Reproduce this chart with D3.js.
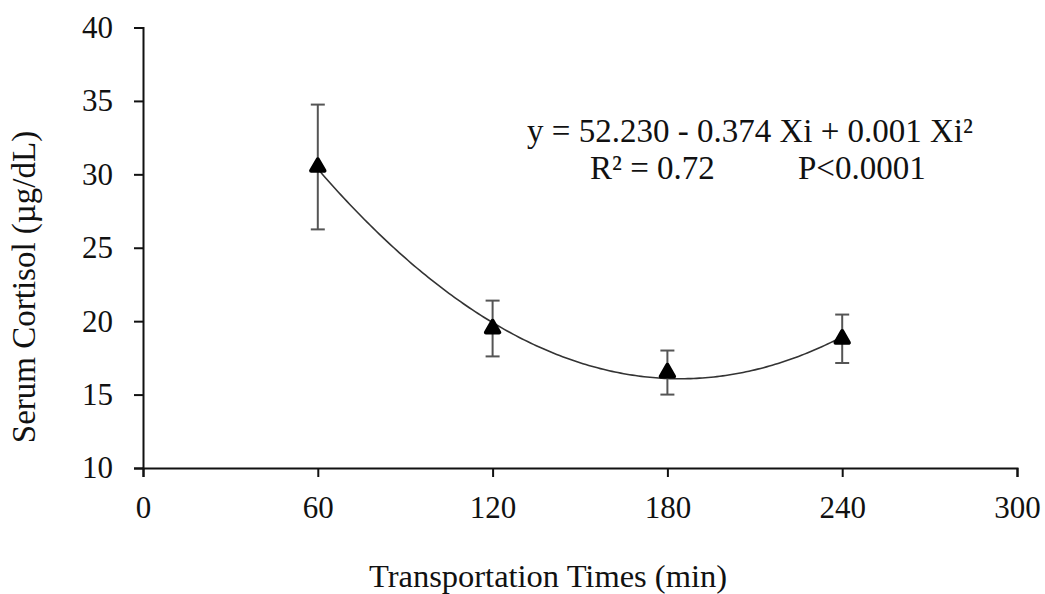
<!DOCTYPE html>
<html><head><meta charset="utf-8">
<script src="https://cdn.jsdelivr.net/npm/d3@7"></script>
<style>body{margin:0;background:#fff}svg{display:block}text{font-family:"Liberation Serif","Times New Roman",serif;fill:#111}</style>
</head><body>
<script>
const times = [60, 120, 180, 240];
const cortisol = [30.5, 19.5, 16.5, 18.8];
const stdErr = [4.25, 1.9, 1.5, 1.65];
const xTicks = [0, 60, 120, 180, 240, 300];
const yTicks = [10, 15, 20, 25, 30, 35, 40];
const eqLine1 = "y = 52.230 - 0.374 Xi + 0.001 Xi²";
const eqLine2a = "R² = 0.72";
const eqLine2b = "P<0.0001";

const W = 1045, H = 594;
const svg = d3.select("body").append("svg").attr("width", W).attr("height", H);
const x = d3.scaleLinear().domain([0, 300]).range([143, 1017]);
const y = d3.scaleLinear().domain([10, 40]).range([468, 27.5]);

const xAxis = svg.append("g").attr("transform", `translate(0,${y(10)})`)
  .call(d3.axisBottom(x).tickValues(xTicks).tickSizeInner(9).tickSizeOuter(9).tickPadding(19));
const yAxis = svg.append("g").attr("transform", `translate(${x(0)},0)`)
  .call(d3.axisLeft(y).tickValues(yTicks).tickSizeInner(9).tickSizeOuter(9).tickPadding(21));
[xAxis, yAxis].forEach(g => {
  g.selectAll("path,line").attr("stroke", "#111").attr("stroke-width", 2);
  g.selectAll("text").style("font-family", '"Liberation Serif",serif').style("font-size", "31px").attr("fill", "#111");
});

// quadratic least-squares trendline through the means
function fitQuad(xs, ys) {
  const n = xs.length; let S = Array.from({length:3},()=>[0,0,0,0]);
  for (let i = 0; i < n; i++) {
    const p = [1, xs[i], xs[i]*xs[i]];
    for (let r = 0; r < 3; r++) { for (let c = 0; c < 3; c++) S[r][c] += p[r]*p[c]; S[r][3] += p[r]*ys[i]; }
  }
  for (let k = 0; k < 3; k++) {
    for (let r = k+1; r < 3; r++) { const f = S[r][k]/S[k][k]; for (let c = k; c < 4; c++) S[r][c] -= f*S[k][c]; }
  }
  const b = [0,0,0];
  for (let r = 2; r >= 0; r--) { let s = S[r][3]; for (let c = r+1; c < 3; c++) s -= S[r][c]*b[c]; b[r] = s/S[r][r]; }
  return b;
}
const coef = fitQuad(times, cortisol);
const curvePts = d3.range(times[0], times[times.length-1] + 0.5, 1).map(t => [t, coef[0] + coef[1]*t + coef[2]*t*t]);
svg.append("path").datum(curvePts)
  .attr("d", d3.line().x(d => x(d[0])).y(d => y(d[1])))
  .attr("fill", "none").attr("stroke", "#333").attr("stroke-width", 1.6);

const data = times.map((t, i) => ({t, v: cortisol[i], e: stdErr[i]}));
const eb = svg.append("g").attr("stroke", "#555").attr("stroke-width", 2);
data.forEach(d => {
  eb.append("line").attr("x1", x(d.t)).attr("x2", x(d.t)).attr("y1", y(d.v + d.e)).attr("y2", y(d.v - d.e));
  eb.append("line").attr("x1", x(d.t) - 7).attr("x2", x(d.t) + 7).attr("y1", y(d.v + d.e)).attr("y2", y(d.v + d.e));
  eb.append("line").attr("x1", x(d.t) - 7).attr("x2", x(d.t) + 7).attr("y1", y(d.v - d.e)).attr("y2", y(d.v - d.e));
});
svg.append("g").selectAll("path").data(data).join("path")
  .attr("transform", d => `translate(${x(d.t)},${y(d.v)})`)
  .attr("d", d3.symbol(d3.symbolTriangle, 78))
  .attr("fill", "#000").attr("stroke", "#000").attr("stroke-width", 4).attr("stroke-linejoin", "round");

svg.append("text").attr("x", 750).attr("y", 142).attr("text-anchor", "middle").style("font-size", "33px").text(eqLine1);
svg.append("text").attr("x", 590).attr("y", 179).style("font-size", "33px").text(eqLine2a);
svg.append("text").attr("x", 798).attr("y", 179).style("font-size", "33px").text(eqLine2b);

svg.append("text").attr("x", 548).attr("y", 587).attr("text-anchor", "middle").style("font-size", "32.5px").text("Transportation Times (min)");
svg.append("text").attr("transform", `translate(35,287) rotate(-90)`).attr("text-anchor", "middle").style("font-size", "33px").text("Serum Cortisol (µg/dL)");
</script>
</body></html>
